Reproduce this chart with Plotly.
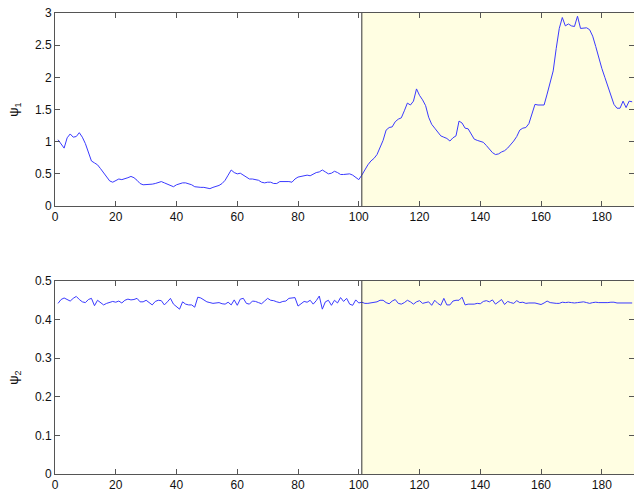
import plotly.graph_objects as go
from plotly.subplots import make_subplots

# Sample index
t = list(range(1, 191))

psi1 = [
    1.03, 0.97, 0.90, 1.06, 1.12, 1.07, 1.08, 1.14, 1.07, 0.97,
    0.85, 0.70, 0.67, 0.64, 0.58, 0.51, 0.44, 0.39, 0.37, 0.40,
    0.42, 0.41, 0.42, 0.44, 0.46, 0.44, 0.40, 0.35, 0.33, 0.33,
    0.34, 0.34, 0.35, 0.36, 0.38, 0.36, 0.34, 0.32, 0.30, 0.33,
    0.35, 0.36, 0.36, 0.35, 0.33, 0.30, 0.29, 0.29, 0.29, 0.28,
    0.27, 0.29, 0.30, 0.32, 0.35, 0.40, 0.48, 0.56, 0.52, 0.50,
    0.51, 0.48, 0.44, 0.42, 0.42, 0.41, 0.40, 0.37, 0.36, 0.37,
    0.37, 0.35, 0.35, 0.38, 0.38, 0.39, 0.38, 0.37, 0.42, 0.45,
    0.46, 0.47, 0.48, 0.47, 0.50, 0.52, 0.53, 0.56, 0.53, 0.50,
    0.51, 0.54, 0.52, 0.49, 0.49, 0.49, 0.50, 0.48, 0.45, 0.41,
    0.48, 0.57, 0.64, 0.70, 0.74, 0.80, 0.90, 1.02, 1.18, 1.22,
    1.23, 1.31, 1.35, 1.37, 1.48, 1.60, 1.57, 1.63, 1.82, 1.72,
    1.65, 1.56, 1.38, 1.27, 1.21, 1.14, 1.09, 1.07, 1.05, 1.01,
    1.06, 1.09, 1.32, 1.29, 1.21, 1.20, 1.12, 1.04, 1.02, 1.01,
    0.99, 0.94, 0.88, 0.83, 0.80, 0.81, 0.84, 0.86, 0.90, 0.95,
    1.01, 1.08, 1.18, 1.21, 1.22, 1.28, 1.45, 1.58, 1.57, 1.57,
    1.57, 1.74, 1.92, 2.10, 2.45, 2.76, 2.93, 2.80, 2.83, 2.80,
    2.79, 2.95, 2.76, 2.77, 2.77, 2.74, 2.64, 2.48, 2.30, 2.14,
    2.00, 1.85, 1.70, 1.58, 1.52, 1.52, 1.63, 1.53, 1.63, 1.62,
]

psi2 = [
    0.442, 0.452, 0.456, 0.452, 0.448, 0.455, 0.460, 0.452, 0.446, 0.444,
    0.452, 0.455, 0.436, 0.450, 0.444, 0.438, 0.442, 0.445, 0.447, 0.445,
    0.448, 0.443, 0.450, 0.453, 0.451, 0.452, 0.455, 0.446, 0.446, 0.450,
    0.444, 0.438, 0.447, 0.450, 0.449, 0.438, 0.446, 0.455, 0.440, 0.434,
    0.427, 0.446, 0.440, 0.438, 0.438, 0.432, 0.458, 0.456, 0.450, 0.446,
    0.444, 0.442, 0.443, 0.444, 0.441, 0.440, 0.445, 0.438, 0.451, 0.437,
    0.453, 0.455, 0.442, 0.440, 0.448, 0.447, 0.444, 0.441, 0.448, 0.455,
    0.450, 0.449, 0.446, 0.444, 0.447, 0.448, 0.455, 0.457, 0.457, 0.435,
    0.442, 0.447, 0.445, 0.450, 0.440, 0.449, 0.461, 0.427, 0.446, 0.450,
    0.437, 0.450, 0.443, 0.457, 0.447, 0.455, 0.440, 0.437, 0.451, 0.443,
    0.445, 0.442, 0.442, 0.443, 0.444, 0.446, 0.450, 0.450, 0.444, 0.441,
    0.448, 0.452, 0.442, 0.440, 0.444, 0.450, 0.446, 0.440, 0.446, 0.449,
    0.442, 0.445, 0.446, 0.437, 0.450, 0.442, 0.437, 0.455, 0.438, 0.438,
    0.448, 0.450, 0.450, 0.458, 0.438, 0.440, 0.440, 0.440, 0.442, 0.441,
    0.447, 0.449, 0.446, 0.451, 0.440, 0.446, 0.452, 0.439, 0.447, 0.444,
    0.442, 0.449, 0.444, 0.445, 0.442, 0.443, 0.443, 0.443, 0.441, 0.439,
    0.443, 0.448, 0.444, 0.442, 0.442, 0.442, 0.445, 0.444, 0.445, 0.444,
    0.443, 0.444, 0.446, 0.446, 0.444, 0.442, 0.444, 0.445, 0.444, 0.444,
    0.443, 0.444, 0.445, 0.445, 0.443, 0.443, 0.444, 0.443, 0.444, 0.443,
]

x_ticks = [0, 20, 40, 60, 80, 100, 120, 140, 160, 180]
y1_ticks = [0, 0.5, 1, 1.5, 2, 2.5, 3]
y1_labels = ["0", "0.5", "1", "1.5", "2", "2.5", "3"]
y2_ticks = [0, 0.1, 0.2, 0.3, 0.4, 0.5]
y2_labels = ["0", "0.1", "0.2", "0.3", "0.4", "0.5"]

split = 101
x_max = 190.6

fig = make_subplots(rows=2, cols=1, vertical_spacing=0.0)

line_style = dict(color="#3a3aff", width=1)
fig.add_trace(go.Scatter(x=t, y=psi1, mode="lines", line=line_style,
                         showlegend=False), row=1, col=1)
fig.add_trace(go.Scatter(x=t, y=psi2, mode="lines", line=line_style,
                         showlegend=False), row=2, col=1)

# Shaded region after the split and the split marker
for xref, yref in (("x", "y"), ("x2", "y2")):
    fig.add_shape(type="rect", xref=xref, yref=yref + " domain",
                  x0=split, x1=x_max, y0=0, y1=1,
                  fillcolor="#fffee2", line_width=0, layer="below")
    fig.add_shape(type="line", xref=xref, yref=yref + " domain",
                  x0=split, x1=split, y0=0, y1=1,
                  line=dict(color="#333333", width=1), layer="above")

axis_font = dict(family="Liberation Sans, Arial, sans-serif", size=12, color="#111111")
title_font = dict(family="Liberation Sans, Arial, sans-serif", size=13, color="#111111")
common_x = dict(range=[0, x_max], tickvals=x_ticks, ticks="inside", ticklen=5,
                tickcolor="#555555", showline=True, linecolor="#555555",
                linewidth=1, mirror="ticks", showgrid=False, zeroline=False,
                tickfont=axis_font)
common_y = dict(ticks="inside", ticklen=5, tickcolor="#555555", showline=True,
                linecolor="#555555", linewidth=1, mirror="ticks",
                showgrid=False, zeroline=False, tickfont=axis_font)

fig.update_xaxes(**common_x)
fig.update_yaxes(**common_y)

fig.update_layout(
    xaxis=dict(domain=[0, 1]),
    xaxis2=dict(domain=[0, 1]),
    yaxis=dict(domain=[0.5813, 1.0], range=[0, 3], tickvals=y1_ticks,
               ticktext=y1_labels,
               title=dict(text="ψ<sub>1</sub>", font=title_font, standoff=13)),
    yaxis2=dict(domain=[0.0, 0.4187], range=[0, 0.5], tickvals=y2_ticks,
                ticktext=y2_labels,
                title=dict(text="ψ<sub>2</sub>", font=title_font, standoff=13)),
    width=634, height=498,
    margin=dict(l=55, r=0, t=13, b=24),
    paper_bgcolor="white", plot_bgcolor="white",
    font=axis_font,
)

fig.write_html("out.html")
